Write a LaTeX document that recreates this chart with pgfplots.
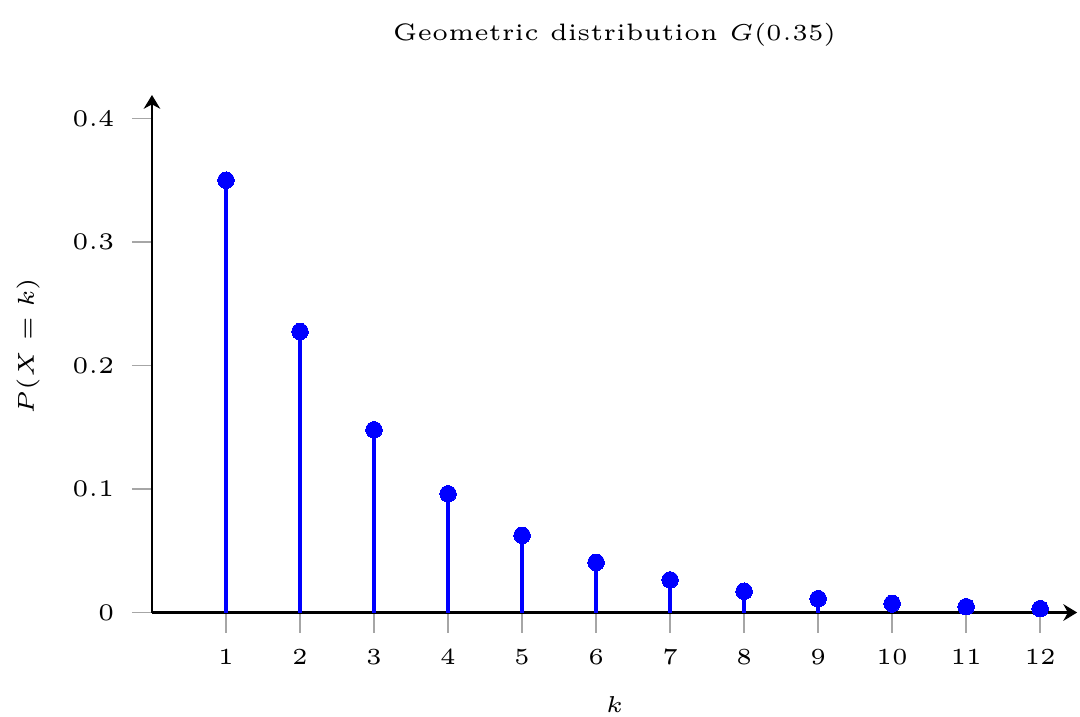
\documentclass[border=0pt]{standalone}
\usepackage{pgfplots}
\pgfplotsset{compat=1.18}
\usetikzlibrary{arrows.meta}
\begin{document}
\begin{tikzpicture}
\path[use as bounding box] (-33.04pt,-22.5pt) rectangle (201.74pt,133.15pt);
\begin{axis}[
  at={(0,0)}, anchor=south west,
  scale only axis,
  x=16.09pt, y=268.5pt,
  xmin=0, xmax=12.5, ymin=0, ymax=0.419,
  axis lines=middle,
  axis line style={line width=0.6pt, -{Stealth[length=3pt,width=3.6pt]}},
  tick align=outside,
  major tick length=4.35pt,
  tick style={gray!70, line width=0.4pt},
  xtick={1,2,...,12},
  ytick={0,0.1,0.2,0.3,0.4},
  yticklabels={0,0.1,0.2,0.3,0.4},
  hide obscured y ticks=false,
  hide obscured x ticks=false,
  font=\fontsize{5.17}{6.2}\selectfont,
  xticklabel style={font=\fontsize{5.17}{6.2}\selectfont, yshift=-0.3pt},
  yticklabel style={font=\fontsize{5.17}{6.2}\selectfont, xshift=-0.3pt},
  title={Geometric distribution $G(0.35)$},
  title style={font=\fontsize{5.17}{6.2}\selectfont, at={(axis description cs:0.5,1.1156)}, anchor=center, yshift=-6pt},
  xlabel={$k$},
  xlabel style={font=\fontsize{5.17}{6.2}\selectfont, at={(axis description cs:0.5,-0.178)}, anchor=center},
  ylabel={$P(X=k)$},
  ylabel style={font=\fontsize{5.17}{6.2}\selectfont, at={(axis description cs:-0.134,0.515)}, anchor=center, rotate=90},
  clip=false,
]
\addplot[ycomb, color=blue, line width=0.95pt, mark=*, mark size=1.8pt, mark options={fill=blue, draw=blue, line width=0pt}]
coordinates {
(1,0.35) (2,0.2275) (3,0.1479) (4,0.0961) (5,0.0625) (6,0.0406)
(7,0.0264) (8,0.0172) (9,0.0112) (10,0.0073) (11,0.0047) (12,0.0031)
};
\end{axis}
\end{tikzpicture}
\end{document}
